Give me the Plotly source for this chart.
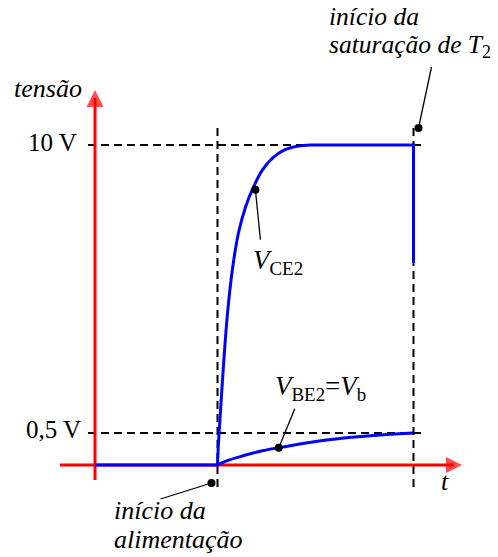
import numpy as np
import plotly.graph_objects as go

# ---------------------------------------------------------------- data
T_ON = 1.0    # supply switched on (arbitrary time units)
T_SAT = 2.6   # T2 enters saturation

# both voltages are zero before the supply comes on
t_off = [0.0, 1.0]
v_off = [0.0, 0.0]

# collector-emitter voltage of T2 after switch-on (V)
t_vce = [1.0, 1.008, 1.025, 1.049, 1.082, 1.122, 1.171, 1.229, 1.294,
         1.367, 1.449, 1.547, 1.661, 1.759]
v_vce = [0.0, 0.31, 1.01, 2.20, 3.80, 5.28, 6.58, 7.56, 8.33,
         9.00, 9.47, 9.80, 9.96, 10.0]
# plateau, then the drop when T2 saturates
t_vce_sat = [1.759, 2.6, 2.6]
v_vce_sat = [10.0, 10.0, 5.5]

# base-emitter voltage of T2 (= Vb)
t_vbe = [1.0, 1.041, 1.098, 1.204, 1.367, 1.571, 1.816, 2.143, 2.6]
v_vbe = [0.0, 0.018, 0.047, 0.096, 0.175, 0.250, 0.340, 0.424, 0.5]

level_values = [10.0, 0.5]
level_labels = ["10 V", "0,5 V"]

# ------------------------------------------------------------ geometry
W, H = 498, 557
X0, Y0 = 95, 465          # page position of the origin
SX, SY = 122.5, 320       # px per time unit / px per full-scale height
P = np.log(10) / np.log(20)   # schematic scale: 0.5 V drawn at 1/10 of 10 V


def level(v):
    """Schematic (not to scale) height of a voltage, 10 V -> 1."""
    return (np.asarray(v, dtype=float) / 10.0) ** P


def px(x, y):
    """Page pixel position -> data coordinates."""
    return (x - X0) / SX, (Y0 - y) / SY


def off(t, h, dx, dy):
    """Shift a data point by dx, dy page pixels (dy downward)."""
    return t + dx / SX, h - dy / SY


BLUE = "#0000ff"
RED = "#ff0000"
FONT = "Liberation Serif, Times New Roman, serif"

fig = go.Figure()


def line(xs, ys, color="black", width=1.2, dash=None, shape="linear"):
    fig.add_trace(go.Scatter(
        x=list(xs), y=list(ys), mode="lines", hoverinfo="skip",
        line=dict(color=color, width=width, dash=dash, shape=shape)))


# dashed guides
DASH = "8px,5px"
t_l, _ = px(88, 0)
t_r, _ = px(422, 0)
for v in level_values:
    line([t_l, t_r], [level(v)] * 2, width=2, dash=DASH)
_, h_top = px(0, 127)
_, h_bot = px(0, 487)
for t in (T_ON, T_SAT):
    line([t, t], [h_bot, h_top], width=2, dash=DASH)

# red axes with arrowheads
ax_l, ax_b = px(60, 480)
tip_x, tip_y = px(462, 90)
line([ax_l, tip_x - 8 / SX], [0, 0], color=RED, width=3)
line([0, 0], [ax_b, tip_y - 8 / SY], color=RED, width=3)
fig.add_trace(go.Scatter(
    x=[tip_x, 0], y=[0, tip_y], mode="markers", hoverinfo="skip",
    marker=dict(symbol=["arrow-right", "arrow-up"], size=[16, 17],
                color=RED, line=dict(width=0))))

# voltage curves
line(t_off, level(v_off), color=BLUE, width=3)
line(t_vce, level(v_vce), color=BLUE, width=3, shape="spline")
line(t_vce_sat, level(v_vce_sat), color=BLUE, width=3)
line(t_vbe, level(v_vbe), color=BLUE, width=3, shape="spline")

# leader lines with dots
t1 = 1.285
d_vce = off(t1, float(np.interp(t1, t_vce, level(v_vce))), 3, 0)
t2 = 1.50
d_vbe = (t2, float(np.interp(t2, t_vbe, level(v_vbe))))
d_sat = off(T_SAT, 1.0, 5, -17)
d_on = off(T_ON, 0.0, -6, 18)
leaders = [
    (d_vce, off(*d_vce, 5, 50)),
    (d_vbe, off(*d_vbe, 16, -39)),
    (d_sat, off(*d_sat, 13, -61)),
    (d_on, off(*d_on, -51, 16)),
]
for a, b in leaders:
    line([a[0], b[0]], [a[1], b[1]], width=1.3)
fig.add_trace(go.Scatter(
    x=[a[0] for a, _ in leaders], y=[a[1] for a, _ in leaders],
    mode="markers", hoverinfo="skip",
    marker=dict(size=8, color="black")))


# text
def label(text, x, y, xanchor="left", size=26):
    tx, ty = px(x, y)
    fig.add_annotation(x=tx, y=ty, text=text, showarrow=False,
                       xanchor=xanchor, yanchor="middle", borderpad=0,
                       font=dict(family=FONT, size=size, color="black"))


label("<i>tensão</i>", 13, 88)
for v, lab in zip(level_values, level_labels):
    fig.add_annotation(x=0, y=float(level(v)), text=lab, showarrow=False,
                       xanchor="right", yanchor="middle",
                       xshift=-17 if v > 1 else -13,
                       yshift=3 if v > 1 else 4, borderpad=0,
                       font=dict(family=FONT, size=25, color="black"))
label("<i>t</i>", 445, 481, xanchor="center")
label("<i>V</i><sub>CE2</sub>", 252, 262, size=27)
label("<i>V</i><sub>BE2</sub>=<i>V</i><sub>b</sub>", 274, 388, size=27)
label("<i>início da</i>", 328, 16.5, size=25.5)
label("<i>saturação de T</i><sub>2</sub>", 328, 45.5, size=25.5)
label("<i>início da</i>", 113, 510.5)
label("<i>alimentação</i>", 113, 539.5)

fig.update_layout(
    width=W, height=H, margin=dict(l=0, r=0, t=0, b=0),
    paper_bgcolor="white", plot_bgcolor="white", showlegend=False,
    xaxis=dict(visible=False, range=[-X0 / SX, (W - X0) / SX], fixedrange=True),
    yaxis=dict(visible=False, range=[(Y0 - H) / SY, Y0 / SY], fixedrange=True),
)

fig.write_html("out.html")
